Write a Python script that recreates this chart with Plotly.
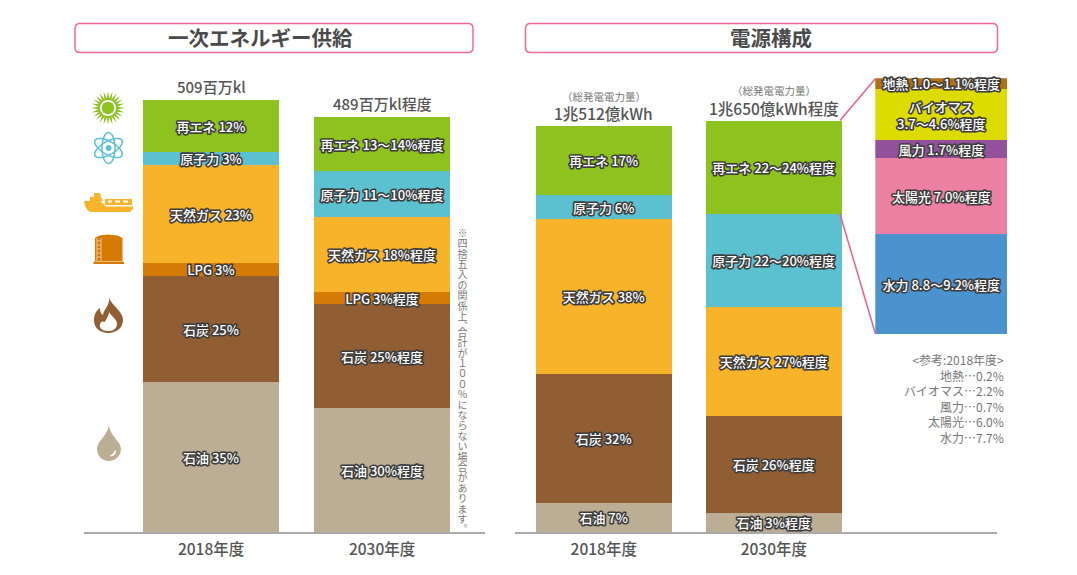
import math
import re
import plotly.graph_objects as go

W, H = 1077, 575
FONT = "Noto Sans CJK JP"

# ---------- data ----------
years = ["2018年度", "2030年度"]

# primary energy supply (million kl)
pe_names = ["石油", "石炭", "LPG", "天然ガス", "原子力", "再エネ"]
pe_colors = ["#BCAE94", "#915E33", "#D67A06", "#F7B32A", "#5BC0D0", "#8DC21F"]
pe_2018 = [176.7, 125.6, 15.0, 115.8, 15.3, 60.9]
pe_2030 = [146.8, 122.0, 14.5, 88.0, 53.8, 63.6]
pe_labels_2018 = ["石油 35%", "石炭 25%", "LPG 3%", "天然ガス 23%", "原子力 3%", "再エネ 12%"]
pe_labels_2030 = ["石油 30%程度", "石炭 25%程度", "LPG 3%程度", "天然ガス 18%程度", "原子力 11～10%程度", "再エネ 13～14%程度"]
pe_totals = ["509百万kl", "489百万kl程度"]

# power generation (100 million kWh)
pg_names = ["石油", "石炭", "天然ガス", "原子力", "再エネ"]
pg_colors = ["#BCAE94", "#915E33", "#F7B32A", "#5BC0D0", "#8DC21F"]
pg_2018 = [750, 3353, 4003, 613, 1793]
pg_2030 = [492, 2510, 2828, 2406, 2414]
pg_labels_2018 = ["石油 7%", "石炭 32%", "天然ガス 38%", "原子力 6%", "再エネ 17%"]
pg_labels_2030 = ["石油 3%程度", "石炭 26%程度", "天然ガス 27%程度", "原子力 22～20%程度", "再エネ 22～24%程度"]
pg_totals = ["1兆512億kWh", "1兆650億kWh程度"]
pg_total_note = "（総発電電力量）"

# renewable breakdown (%)
re_names = ["水力", "太陽光", "風力", "バイオマス", "地熱"]
re_colors = ["#4A93CF", "#EC80A2", "#93509B", "#DCDC00", "#B06F10"]
re_values = [9.17, 6.92, 1.67, 4.63, 1.0]
re_labels = ["水力 8.8～9.2%程度", "太陽光 7.0%程度", "風力 1.7%程度", "バイオマス<br>3.7～4.6%程度", "地熱 1.0～1.1%程度"]

reference_lines = ["<参考:2018年度>", "地熱…0.2%", "バイオマス…2.2%", "風力…0.7%", "太陽光…6.0%", "水力…7.7%"]
note_text = "※四捨五入の関係上、合計が１００％にならない場合があります。"

# ---------- helpers ----------
def px(x):
    return x / W

def py(y):
    return 1 - y / H

def path(d):
    res, is_x = [], True
    for tok in re.findall(r"[A-Za-z]|-?\d+\.?\d*", d):
        if tok.isalpha():
            res.append(tok)
            is_x = True
        else:
            v = float(tok)
            res.append(f"{px(v):.5f} " if is_x else f"{py(v):.5f} ")
            is_x = not is_x
    return "".join(res).strip()

shapes = []

def add_path(d, fill=None, line=None, lw=0):
    shapes.append(dict(type="path", xref="paper", yref="paper", path=path(d),
                       fillcolor=fill or "rgba(0,0,0,0)",
                       line=dict(color=line or "rgba(0,0,0,0)", width=lw)))

def circle_d(cx, cy, r, n=40):
    pts = [(cx + r * math.cos(2 * math.pi * i / n), cy + r * math.sin(2 * math.pi * i / n)) for i in range(n)]
    return "M" + " L".join(f"{a:.2f},{b:.2f}" for a, b in pts) + " Z"

def round_box(x0, y0, x1, y1, r=5):
    return (f"M{x0+r},{y0} L{x1-r},{y0} Q{x1},{y0} {x1},{y0+r} L{x1},{y1-r} Q{x1},{y1} {x1-r},{y1} "
            f"L{x0+r},{y1} Q{x0},{y1} {x0},{y1-r} L{x0},{y0+r} Q{x0},{y0} {x0+r},{y0} Z")

PINK = "#EE6A91"
add_path(round_box(75, 23.5, 473, 52.5), line=PINK, lw=1.5)
add_path(round_box(525.5, 23.5, 997.5, 52.5), line=PINK, lw=1.5)
# connector lines to the breakdown
add_path("M840,120.5 L875.5,78.5", line="#E8608A", lw=1.5)
add_path("M840,214 L875.5,334", line="#E8608A", lw=1.5)

# sun
cx, cy = 108, 108
n = 24
pts = []
for i in range(n * 2):
    r = 17 if i % 2 == 0 else 9.5
    a = math.pi * i / n
    pts.append((cx + r * math.cos(a), cy + r * math.sin(a)))
add_path("M" + " L".join(f"{a:.2f},{b:.2f}" for a, b in pts) + " Z", fill="#8DC21F")
add_path(circle_d(cx, cy, 8), fill="#FFFFFF")
add_path(circle_d(cx, cy, 6.2), fill="#8DC21F")
# atom
cx, cy = 108.5, 148
for rot in (90, 30, 150):
    t = math.radians(rot)
    ell = []
    for i in range(48):
        a = 2 * math.pi * i / 48
        ex, ey = 15.5 * math.cos(a), 6.5 * math.sin(a)
        ell.append((cx + ex * math.cos(t) - ey * math.sin(t), cy + ex * math.sin(t) + ey * math.cos(t)))
    add_path("M" + " L".join(f"{a:.2f},{b:.2f}" for a, b in ell) + " Z", line="#5BC0D0", lw=1.5)
add_path(circle_d(cx, cy, 3), fill="#5BC0D0")
# ship
SHIP = "#F7B32A"
add_path("M84,201 L100,201 L106,206.5 L133,206.5 L133,209 L130,212 L90,212 Q85,209 84,201 Z", fill=SHIP)
add_path("M90,201 L90,197 L94,197 L94,193 L100,193 L101,197 L103,201 Z", fill=SHIP)
add_path("M105,205 L105,199 L132,199 L132,205 Z", fill=SHIP)
add_path("M108,200.5 L112,200.5 L112,202.5 L108,202.5 Z M115,200.5 L120,200.5 L120,202.5 L115,202.5 Z M123,200.5 L128,200.5 L128,202.5 L123,202.5 Z", fill="#FFFFFF")
# tank
TANK = "#D67A06"
add_path("M95,261 L95,238 Q98,235 108,234.5 Q119,235 122.5,238 L122.5,261 Z", fill=TANK)
add_path("M93.5,261.5 L124,261.5 L124,264 L93.5,264 Z", fill=TANK)
add_path("M97,238 L97,261 M101,238 L101,261", line="#F6D9A8", lw=0.8)
for yy in range(241, 261, 4):
    add_path(f"M97,{yy} L101,{yy}", line="#F6D9A8", lw=0.8)
# flame
FLAME = "#915E33"
add_path("M109,298 C112,306 123,311 123,320 C123,328 116,333 108.5,333 C100,333 94,328 94,320 C94,314 97,310 100,308 "
         "C100,312 101,314 103,315 C104,309 110,305 109,298 Z", fill=FLAME)
add_path("M109,312 C112,317 118,320 117,325 C116,330 112,331 108,331 C102,331 99,328 100,324 C101,321 103,321 105,322 "
         "C106,319 109,316 109,312 Z", fill="#FFFFFF")
# drop
OIL = "#BCAE94"
add_path("M108.8,425.7 C106.5,437 97,441 97,449 C97,456 102,461 108.8,461 C115.5,461 121,456 121,449 "
         "C121,441 111,437 108.8,425.7 Z", fill=OIL)
add_path("M116,451 C116,454 114,456 111,456.5 C110,456.5 110,455 111,455 C113,454 114,453 114.5,451 C115,450 116,450 116,451 Z", fill="#FFFFFF")

# ---------- traces ----------
def bar_font(size=13):
    return dict(family=FONT, size=size, weight=500, color="#FFFFFF")

fig = go.Figure()
for i, name in enumerate(pe_names):
    fig.add_bar(x=years, y=[pe_2018[i], pe_2030[i]], name=name, marker=dict(color=pe_colors[i], line=dict(width=0)),
                text=[pe_labels_2018[i], pe_labels_2030[i]], textposition="inside", insidetextanchor="middle",
                textangle=0, constraintext="none", textfont=bar_font(), width=0.795,
                xaxis="x", yaxis="y", showlegend=False, cliponaxis=False)
for i, name in enumerate(pg_names):
    fig.add_bar(x=years, y=[pg_2018[i], pg_2030[i]], name=name, marker=dict(color=pg_colors[i], line=dict(width=0)),
                text=[pg_labels_2018[i], pg_labels_2030[i]], textposition="inside", insidetextanchor="middle",
                textangle=0, constraintext="none", textfont=bar_font(), width=0.8,
                xaxis="x2", yaxis="y2", showlegend=False, cliponaxis=False)
for i, name in enumerate(re_names):
    fig.add_bar(x=["再エネ内訳"], y=[re_values[i]], name=name, marker=dict(color=re_colors[i], line=dict(width=0)),
                text=[re_labels[i]], textposition="inside", insidetextanchor="middle",
                textangle=0, constraintext="none", textfont=bar_font(), width=1,
                xaxis="x3", yaxis="y3", showlegend=False, cliponaxis=False)

# ---------- annotations ----------
annotations = []
GRAY = "#555555"

def note(text, x, y, size, color=GRAY, anchor="center", bold=False, **kw):
    annotations.append(dict(text=f"<b>{text}</b>" if bold else text, x=px(x), y=py(y), xref="paper", yref="paper",
                            showarrow=False, xanchor=anchor, yanchor="middle",
                            font=dict(family=FONT, size=size, color=color), **kw))

note("一次エネルギー供給", 260, 37.5, 20.5, bold=True, color="#4a4a4a")
note("電源構成", 770.5, 37.5, 20.5, bold=True, color="#4a4a4a")

pe_tops = [sum(pe_2018), sum(pe_2030)]
pg_tops = [sum(pg_2018), sum(pg_2030)]
for i in range(2):
    annotations.append(dict(text=pe_totals[i], x=years[i], y=pe_tops[i], xref="x", yref="y", showarrow=False,
                            yanchor="bottom", yshift=1, font=dict(family=FONT, size=15, weight=500, color=GRAY)))
    annotations.append(dict(text=pg_totals[i], x=years[i], y=pg_tops[i], xref="x2", yref="y2", showarrow=False,
                            yanchor="bottom", yshift=0, font=dict(family=FONT, size=15.5, weight=500, color=GRAY)))
    annotations.append(dict(text=pg_total_note, x=years[i], y=pg_tops[i], xref="x2", yref="y2", showarrow=False,
                            yanchor="bottom", yshift=20.5, font=dict(family=FONT, size=10.5, color="#777777")))

annotations.append(dict(text="<br>".join(l.replace("<", "&lt;").replace(">", "&gt;") for l in reference_lines),
                        x=px(1006), y=py(348.5), xref="paper", yref="paper", showarrow=False, xanchor="right",
                        yanchor="top", align="right", font=dict(family=FONT, size=12, color="#777777")))

note(note_text, 462, 380, 10, color="#777777")

# ---------- layout ----------
def x_dom(a, b):
    return [a / W, b / W]

def y_dom(top, bottom):
    return [1 - bottom / H, 1 - top / H]

xcommon = dict(showgrid=False, zeroline=False, showline=True, linecolor="#AAAAAA", linewidth=1.5,
               ticks="outside", ticklen=2, tickcolor="rgba(0,0,0,0)",
               tickfont=dict(family=FONT, size=15.5, weight=500, color=GRAY), type="category")
ycommon = dict(showgrid=False, zeroline=False, showline=False, showticklabels=False, ticks="")

fig.update_layout(
    width=W, height=H, autosize=False, margin=dict(l=0, r=0, t=0, b=0, pad=0),
    paper_bgcolor="#FFFFFF", plot_bgcolor="rgba(0,0,0,0)", barmode="stack", bargap=0,
    font=dict(family=FONT), showlegend=False,
    xaxis=dict(domain=x_dom(84, 485), range=[-0.743, 1.602], anchor="y", **xcommon),
    yaxis=dict(domain=y_dom(60, 532.3), range=[0, 472.3 / 0.849], anchor="x", **ycommon),
    xaxis2=dict(domain=x_dom(514.7, 996.7), range=[-0.524, 2.311], anchor="y2", **xcommon),
    yaxis2=dict(domain=y_dom(60, 532.3), range=[0, 472.3 / 0.03865], anchor="x2", **ycommon),
    xaxis3=dict(domain=x_dom(875.3, 1007), range=[-0.5, 0.5], anchor="y3", visible=False, type="category"),
    yaxis3=dict(domain=y_dom(78.3, 334.3), range=[0, sum(re_values)], anchor="x3", visible=False),
    shapes=shapes, annotations=annotations,
)

POST = """
document.body.style.margin='0';document.body.style.overflow='hidden';
(function(){
  var css=document.createElement('style');
  css.textContent='.barlayer text,.bartext{stroke:#3c3c3c !important;stroke-width:3.2px !important;stroke-linejoin:round !important;paint-order:stroke fill !important;}';
  document.head.appendChild(css);
  document.querySelectorAll('.annotation-text').forEach(function(t){
    if(t.textContent.indexOf('\\u203b')!==0){return;}
    t.setAttribute('lang','ja');
    t.style.writingMode='vertical-rl';
    t.style.textAnchor='start';
    t.style.letterSpacing='0.4px';
    t.style.fontFeatureSettings='"vhal" 1';
    t.setAttribute('x','0');t.setAttribute('y','0');
    t.removeAttribute('transform');
    var r=t.getBoundingClientRect();
    t.setAttribute('transform','translate('+(462.5-(r.left+r.right)/2)+','+(228-r.top)+')');
  });
})();
"""
fig.write_html("out.html", config=dict(displayModeBar=False), post_script=POST)
